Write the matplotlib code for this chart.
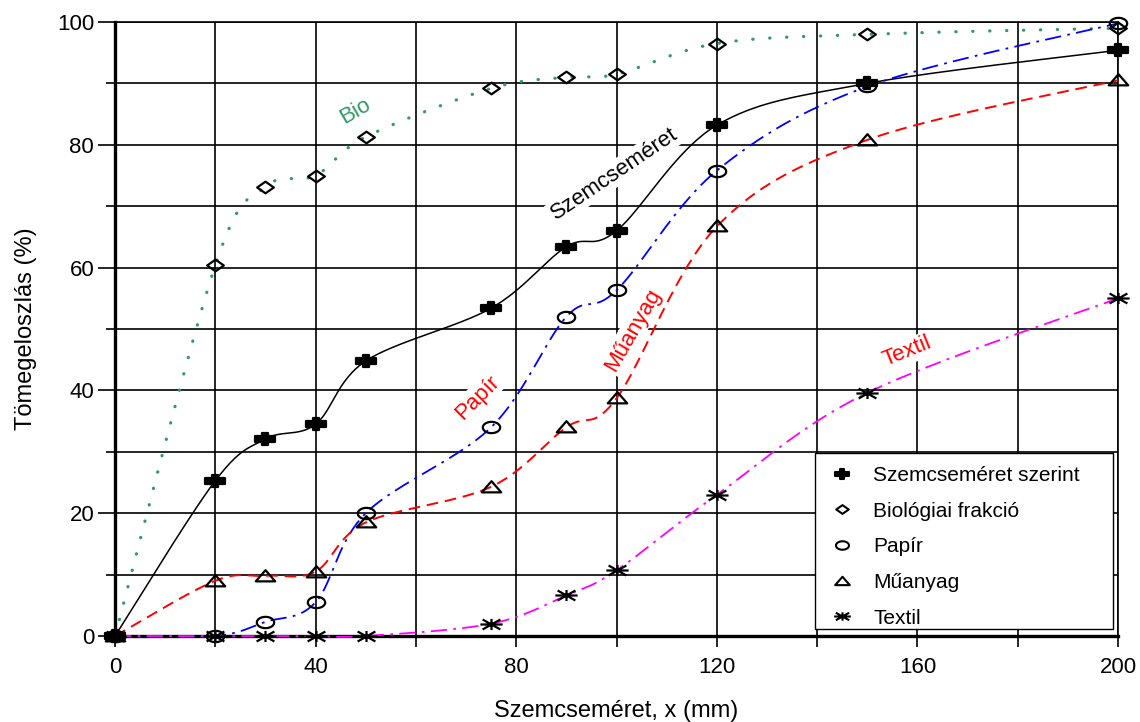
import numpy as np
import matplotlib
matplotlib.use("Agg")
import matplotlib.pyplot as plt
from matplotlib.path import Path
from matplotlib.lines import Line2D
from matplotlib.patches import Rectangle

plt.rcParams['font.family'] = ['Liberation Sans', 'DejaVu Sans']

# Particle size classes (mm)
size_x = [0, 20, 30, 40, 50, 75, 90, 100, 120, 150, 200]

# Cumulative mass distribution (%)
szemcse = [0, 25.3, 32.1, 34.5, 44.8, 53.4, 63.4, 66.0, 83.2, 90.0, 95.4]
bio = [0, 60.4, 73.2, 75.0, 81.3, 89.2, 91.0, 91.5, 96.5, 98.0, 99.0]
papir = [0, 0.0, 2.3, 5.5, 20.0, 34.0, 52.0, 56.3, 75.8, 89.5, 99.8]
muanyag = [0, 9.0, 9.8, 10.5, 18.5, 24.3, 34.0, 38.7, 66.7, 80.8, 90.5]
textil = [0, 0.0, 0.0, 0.0, 0.0, 2.0, 6.6, 10.7, 23.0, 39.6, 55.0]

legend_labels = ["Szemcseméret szerint", "Biológiai frakció", "Papír",
                 "Műanyag", "Textil"]


def smooth(xs, ys, n=40):
    """Catmull-Rom style smoothed curve through the points."""
    P = np.column_stack([xs, ys]).astype(float)
    out = [P[0]]
    t = np.linspace(0, 1, n)[1:, None]
    for i in range(len(P) - 1):
        p0 = P[i - 1] if i > 0 else P[i]
        p1, p2 = P[i], P[i + 1]
        p3 = P[i + 2] if i + 2 < len(P) else P[i + 1]
        c1 = p1 + (p2 - p0) / 6
        c2 = p2 - (p3 - p1) / 6
        seg = ((1 - t) ** 3 * p1 + 3 * (1 - t) ** 2 * t * c1
               + 3 * (1 - t) * t ** 2 * c2 + t ** 3 * p2)
        out.extend(seg)
    out = np.array(out)
    return out[:, 0], out[:, 1]


# Marker shapes
plus_w, plus_h, arm = 1.0, 0.65, 0.13
plus_marker = Path([(-arm, plus_h / 2), (arm, plus_h / 2), (arm, arm),
                    (plus_w / 2, arm), (plus_w / 2, -arm), (arm, -arm),
                    (arm, -plus_h / 2), (-arm, -plus_h / 2), (-arm, -arm),
                    (-plus_w / 2, -arm), (-plus_w / 2, arm), (-arm, arm),
                    (-arm, plus_h / 2)], closed=True)
diamond_marker = Path([(-1, 0), (0, 0.7), (1, 0), (0, -0.7), (-1, 0)], closed=True)
th = np.linspace(0, 2 * np.pi, 41)
ellipse_marker = Path(np.column_stack([np.cos(th), 0.65 * np.sin(th)]), closed=True)
tri_marker = Path([(-1, -0.5), (0, 0.65), (1, -0.5), (-1, -0.5)], closed=True)
star_marker = Path([(-1, 0), (1, 0), (-0.8, -0.45), (0.8, 0.45),
                    (-0.8, 0.45), (0.8, -0.45), (0, -0.5), (0, 0.5)],
                   [Path.MOVETO, Path.LINETO] * 4)

fig = plt.figure(figsize=(11.4, 7.22), dpi=100)
ax = fig.add_axes([0.1009, 0.1191, 0.8798, 0.8504])

ax.set_xlim(0, 200)
ax.set_ylim(0, 100)

ax.set_xticks(np.arange(0, 201, 40))
ax.set_xticks(np.arange(0, 201, 20), minor=True)
ax.set_yticks(np.arange(0, 101, 20))
ax.set_yticks(np.arange(0, 101, 10), minor=True)
ax.grid(True, which='both', color='black', linewidth=1.2, zorder=0)
ax.set_axisbelow(True)

ax.tick_params(axis='x', which='both', direction='out', length=8, width=1.2,
               labelsize=16, pad=7)
ax.tick_params(axis='y', which='major', direction='out', length=12, width=1.2,
               labelsize=16, pad=3)
ax.tick_params(axis='y', which='minor', direction='out', length=6.5, width=1.2)

for side in ('left', 'bottom'):
    ax.spines[side].set_linewidth(2.4)
for side in ('top', 'right'):
    ax.spines[side].set_linewidth(1.2)

green = '#339966'
series = [
    (szemcse, 'black', '-', 1.1, plus_marker, 14, 'black'),
    (bio, green, (0, (0.1, 5.2)), 2.3, diamond_marker, 12, 'none'),
    (papir, 'blue', (0, (9, 3.5, 1.5, 3.5)), 1.3, ellipse_marker, 12.5, 'none'),
    (muanyag, 'red', (0, (6, 3.5)), 1.4, tri_marker, 14, 'none'),
    (textil, 'magenta', (0, (9, 3.5, 1.5, 3.5)), 1.3, star_marker, 16, 'none'),
]

handles = []
for ys, col, ls, lw, mk, ms, fc in series:
    sx, sy = smooth(size_x, ys)
    ax.plot(sx, sy, color=col, linestyle=ls, linewidth=lw, zorder=3,
            solid_capstyle='round',
            dash_capstyle='round' if col == green else 'butt',
            clip_on=False)
    ax.plot(size_x, ys, linestyle='none', marker=mk, markersize=ms,
            markerfacecolor=fc, markeredgecolor='black', markeredgewidth=1.6,
            zorder=4, clip_on=False)
    handles.append(Line2D([], [], linestyle='none', marker=mk, markersize=ms * 0.75,
                          markerfacecolor=fc, markeredgecolor='black',
                          markeredgewidth=1.5))

ax.set_xlabel("Szemcseméret, x (mm)", fontsize=17, labelpad=16)
ax.set_ylabel("Tömegeloszlás (%)", fontsize=17, labelpad=14)

white = dict(facecolor='white', edgecolor='none', pad=1.5)
ax.text(47.9, 85.5, "Bio", color=green, fontsize=16, rotation=30,
        ha='center', va='center', zorder=5)
ax.text(99.5, 75.2, "Szemcseméret", color='black', fontsize=16, rotation=34,
        ha='center', va='center', bbox=white, zorder=5)
ax.text(72.2, 38.8, "Papír", color='red', fontsize=16, rotation=45,
        ha='center', va='center', bbox=white, zorder=5)
ax.text(103.3, 49.8, "Műanyag", color='red', fontsize=16, rotation=60,
        ha='center', va='center', bbox=white, zorder=5)
ax.text(158.0, 46.3, "Textil", color='red', fontsize=16, rotation=22,
        ha='center', va='center', bbox=white, zorder=5)

# Legend box drawn separately so the entries can sit low inside it
legend_box = Rectangle((0.698, 0.0114), 0.297, 0.2866, transform=ax.transAxes,
                       facecolor='white', edgecolor='black', linewidth=1.0,
                       zorder=5.5, clip_on=False)
ax.add_patch(legend_box)
leg = ax.legend(handles, legend_labels, loc='lower left',
                bbox_to_anchor=(0.698, -0.0016, 0.297, 0.25), mode='expand',
                fontsize=15, frameon=False, handlelength=1.65,
                handletextpad=0.7, labelspacing=0.8, borderpad=0.45,
                borderaxespad=0)
leg.set_zorder(6)

fig.savefig("out.png", dpi=100)
